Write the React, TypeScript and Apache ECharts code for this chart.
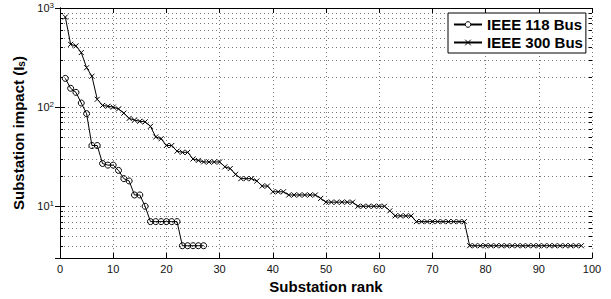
import React, { useEffect, useRef } from 'react';
import * as echarts from 'echarts';

const seriesNames = ['IEEE 118 Bus', 'IEEE 300 Bus'];

const impact118 = [
  195, 155, 141, 110, 86, 41, 41, 27, 26, 26,
  23, 19, 18, 13, 13, 10, 7, 7, 7, 7,
  7, 7, 4, 4, 4, 4, 4,
];

const impact300 = [
  810, 430, 415, 355, 250, 205, 120, 104, 102, 100,
  96, 87, 77, 74, 72, 71, 64, 50, 48, 41,
  41, 36, 35, 35, 30, 29, 28, 28, 28, 28,
  25, 24, 21, 19, 19, 19, 18, 16, 16, 14,
  14, 14, 13, 13, 13, 13, 13, 13, 12, 11,
  11, 11, 11, 11, 11, 10, 10, 10, 10, 10,
  10, 9, 8, 8, 8, 8, 7, 7, 7, 7,
  7, 7, 7, 7, 7, 7, 4, 4, 4, 4,
  4, 4, 4, 4, 4, 4, 4, 4, 4, 4,
  4, 4, 4, 4, 4, 4, 4, 4,
];

const yMinorGrid = [4, 5, 6, 7, 8, 9, 20, 30, 40, 50, 60, 70, 80, 90, 200, 300, 400, 500, 600, 700, 800, 900];

const xMin = 0;
const xMax = 100;
const xStep = 10;
const yMin = 3;
const yMax = 1000;

const FONT = '"Liberation Sans", Arial, Helvetica, sans-serif';

export default function App() {
  const ref = useRef<HTMLDivElement>(null);

  useEffect(() => {
    if (!ref.current) return;
    const chart = echarts.init(ref.current, null, { renderer: 'svg' });
    const dotted = { color: '#777', width: 1, type: [1, 3] as any };
    const markerStyle = { color: '#fff', borderColor: '#000', borderWidth: 1 };

    const option: any = {
      animation: false,
      backgroundColor: '#fff',
      textStyle: { fontFamily: FONT },
      grid: { left: 60, right: 19, top: 8, bottom: 37, containLabel: false },
      legend: {
        data: seriesNames.map((n) => ({ name: n, itemStyle: markerStyle })),
        orient: 'vertical',
        left: 448,
        top: 13,
        itemWidth: 28,
        itemHeight: 7,
        itemGap: 3,
        padding: [4, 3, 3, 5],
        borderColor: '#000',
        borderWidth: 1,
        backgroundColor: '#fff',
        textStyle: { fontFamily: FONT, fontSize: 15, fontWeight: 'bold', color: '#000' },
      },
      xAxis: [
        {
          type: 'value',
          min: xMin,
          max: xMax,
          interval: xStep,
          name: 'Substation rank',
          nameLocation: 'middle',
          nameGap: 15,
          nameTextStyle: { fontFamily: FONT, fontSize: 15, fontWeight: 'bold', color: '#000' },
          axisLine: { show: true, lineStyle: { color: '#000', width: 1 } },
          axisTick: { show: true, inside: true, length: 5, lineStyle: { color: '#000' } },
          axisLabel: { fontFamily: FONT, fontSize: 11, color: '#111', margin: 5 },
          splitLine: { show: true, lineStyle: dotted },
        },
        {
          type: 'value',
          position: 'top',
          min: xMin,
          max: xMax,
          interval: xStep,
          axisLine: { show: true, lineStyle: { color: '#000', width: 1 } },
          axisTick: { show: true, inside: true, length: 5, lineStyle: { color: '#000' } },
          axisLabel: { show: false },
          splitLine: { show: false },
        },
      ],
      yAxis: [
        {
          type: 'log',
          logBase: 10,
          min: yMin,
          max: yMax,
          name: 'Substation impact (I{sub|s})',
          nameLocation: 'middle',
          nameGap: 30,
          nameTextStyle: {
            fontFamily: FONT,
            fontSize: 15,
            fontWeight: 'bold',
            color: '#000',
            rich: {
              sub: { fontFamily: FONT, fontSize: 10, fontWeight: 'bold', color: '#000', verticalAlign: 'bottom', padding: [6, 0, 0, 0] },
            },
          },
          axisLine: { show: true, lineStyle: { color: '#000', width: 1 } },
          axisTick: { show: true, inside: true, length: 5, lineStyle: { color: '#000' } },
          axisLabel: {
            margin: 6,
            formatter: (v: number) => {
              const e = Math.log10(v);
              const r = Math.round(e);
              if (Math.abs(e - r) > 1e-6) return '';
              return '{b|10}{s|' + r + '}';
            },
            rich: {
              b: { fontFamily: FONT, fontSize: 11, color: '#111', lineHeight: 14 },
              s: { fontFamily: FONT, fontSize: 8, color: '#111', verticalAlign: 'top', lineHeight: 14, padding: [0, 0, 4, 0] },
            },
          },
          splitLine: { show: true, lineStyle: dotted },
        },
        {
          type: 'log',
          logBase: 10,
          position: 'right',
          min: yMin,
          max: yMax,
          axisLine: { show: true, lineStyle: { color: '#000', width: 1 } },
          axisTick: { show: true, inside: true, length: 5, lineStyle: { color: '#000' } },
          axisLabel: { show: false },
          splitLine: { show: false },
        },
      ],
      series: [
        {
          type: 'custom',
          name: 'minorGrid',
          silent: true,
          xAxisIndex: 0,
          yAxisIndex: 0,
          z: 1,
          encode: { x: 0, y: 1 },
          data: yMinorGrid.map((v) => [xMin, v]),
          renderItem: (params: any, api: any) => {
            const cs = params.coordSys;
            const p = api.coord([xMin, api.value(1)]);
            const y = Math.round(p[1]) + 0.5;
            const x0 = cs.x;
            const x1 = cs.x + cs.width;
            return {
              type: 'group',
              children: [
                { type: 'line', shape: { x1: x0, y1: y, x2: x1, y2: y }, style: { stroke: '#777', lineWidth: 1, lineDash: [1, 3] } },
                { type: 'line', shape: { x1: x0, y1: y, x2: x0 + 3, y2: y }, style: { stroke: '#000', lineWidth: 1 } },
                { type: 'line', shape: { x1: x1 - 3, y1: y, x2: x1, y2: y }, style: { stroke: '#000', lineWidth: 1 } },
              ],
            };
          },
        },
        {
          type: 'line',
          name: seriesNames[0],
          data: impact118.map((v, i) => [i + 1, v]),
          symbol: 'circle',
          symbolSize: 6,
          z: 3,
          lineStyle: { color: '#000', width: 1 },
          itemStyle: { color: 'transparent', borderColor: '#000', borderWidth: 1 },
        },
        {
          type: 'line',
          name: seriesNames[1],
          data: impact300.map((v, i) => [i + 1, v]),
          symbol: 'path://M0 0L10 10M10 0L0 10',
          symbolSize: 5,
          z: 3,
          lineStyle: { color: '#000', width: 1 },
          itemStyle: { color: 'transparent', borderColor: '#000', borderWidth: 1 },
        },
      ],
    };

    chart.setOption(option);
    return () => chart.dispose();
  }, []);

  return <div ref={ref} style={{ position: 'fixed', left: 0, top: 0, width: 611, height: 299 }} />;
}
